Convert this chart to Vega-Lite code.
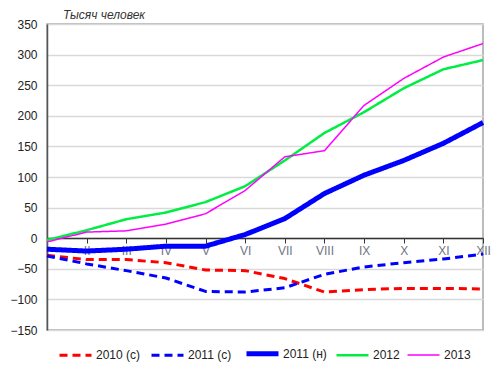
{
  "$schema": "https://vega.github.io/schema/vega-lite/v6.json",
  "autosize": {"type": "none"},
  "width": 436,
  "height": 306,
  "padding": {"left": 47, "top": 24, "right": 17, "bottom": 45},
  "background": "white",
  "title": {"text": "Тысяч человек", "anchor": "start", "frame": "group", "dx": 16, "offset": -4, "fontSize": 12, "fontStyle": "italic", "fontWeight": "normal", "font": "Liberation Sans", "color": "#333333"},
  "config": {
    "view": {"stroke": "#a6a6a6", "strokeWidth": 1.5},
    "font": "Liberation Sans"
  },
  "data": {"values": [
    {"m": "I", "s": "2010 (с)", "v": -28}, {"m": "II", "s": "2010 (с)", "v": -35}, {"m": "III", "s": "2010 (с)", "v": -35}, {"m": "IV", "s": "2010 (с)", "v": -40}, {"m": "V", "s": "2010 (с)", "v": -52}, {"m": "VI", "s": "2010 (с)", "v": -53}, {"m": "VII", "s": "2010 (с)", "v": -66}, {"m": "VIII", "s": "2010 (с)", "v": -88}, {"m": "IX", "s": "2010 (с)", "v": -84}, {"m": "X", "s": "2010 (с)", "v": -82}, {"m": "XI", "s": "2010 (с)", "v": -82}, {"m": "XII", "s": "2010 (с)", "v": -83},
    {"m": "I", "s": "2011 (с)", "v": -29}, {"m": "II", "s": "2011 (с)", "v": -42}, {"m": "III", "s": "2011 (с)", "v": -53}, {"m": "IV", "s": "2011 (с)", "v": -65}, {"m": "V", "s": "2011 (с)", "v": -87}, {"m": "VI", "s": "2011 (с)", "v": -88}, {"m": "VII", "s": "2011 (с)", "v": -81}, {"m": "VIII", "s": "2011 (с)", "v": -59}, {"m": "IX", "s": "2011 (с)", "v": -47}, {"m": "X", "s": "2011 (с)", "v": -40}, {"m": "XI", "s": "2011 (с)", "v": -34}, {"m": "XII", "s": "2011 (с)", "v": -26},
    {"m": "I", "s": "2011 (н)", "v": -18}, {"m": "II", "s": "2011 (н)", "v": -21}, {"m": "III", "s": "2011 (н)", "v": -18}, {"m": "IV", "s": "2011 (н)", "v": -13}, {"m": "V", "s": "2011 (н)", "v": -13}, {"m": "VI", "s": "2011 (н)", "v": 6}, {"m": "VII", "s": "2011 (н)", "v": 32}, {"m": "VIII", "s": "2011 (н)", "v": 73}, {"m": "IX", "s": "2011 (н)", "v": 103}, {"m": "X", "s": "2011 (н)", "v": 127}, {"m": "XI", "s": "2011 (н)", "v": 155}, {"m": "XII", "s": "2011 (н)", "v": 189},
    {"m": "I", "s": "2012", "v": -3}, {"m": "II", "s": "2012", "v": 13}, {"m": "III", "s": "2012", "v": 31}, {"m": "IV", "s": "2012", "v": 42}, {"m": "V", "s": "2012", "v": 59}, {"m": "VI", "s": "2012", "v": 85}, {"m": "VII", "s": "2012", "v": 127}, {"m": "VIII", "s": "2012", "v": 172}, {"m": "IX", "s": "2012", "v": 206}, {"m": "X", "s": "2012", "v": 245}, {"m": "XI", "s": "2012", "v": 276}, {"m": "XII", "s": "2012", "v": 291},
    {"m": "I", "s": "2013", "v": -6}, {"m": "II", "s": "2013", "v": 10}, {"m": "III", "s": "2013", "v": 12}, {"m": "IV", "s": "2013", "v": 23}, {"m": "V", "s": "2013", "v": 40}, {"m": "VI", "s": "2013", "v": 78}, {"m": "VII", "s": "2013", "v": 133}, {"m": "VIII", "s": "2013", "v": 143}, {"m": "IX", "s": "2013", "v": 217}, {"m": "X", "s": "2013", "v": 261}, {"m": "XI", "s": "2013", "v": 296}, {"m": "XII", "s": "2013", "v": 318}
  ]},
  "mark": {"type": "line", "strokeCap": "butt", "strokeJoin": "round"},
  "encoding": {
    "x": {
      "field": "m", "type": "ordinal",
      "sort": ["I", "II", "III", "IV", "V", "VI", "VII", "VIII", "IX", "X", "XI", "XII"],
      "scale": {"type": "point", "padding": 0},
      "axis": {"title": null, "offset": -92, "labelAngle": 0, "domainColor": "#333333", "domainWidth": 1.5, "tickColor": "#333333", "tickSize": 5, "tickOffset": 0, "labelColor": "#6f7585", "labelFontSize": 12, "labelPadding": 2, "labelBound": false, "labelOverlap": false, "grid": false, "zindex": 0}
    },
    "y": {
      "field": "v", "type": "quantitative",
      "scale": {"domain": [-150, 350], "nice": false},
      "axis": {"title": null, "values": [-150, -100, -50, 0, 50, 100, 150, 200, 250, 300, 350], "ticks": false, "labelFontSize": 12, "labelColor": "#222222", "labelPadding": 10, "gridColor": "#d9d9d9", "gridWidth": 1.5, "domainColor": "#555555", "domainWidth": 1.5}
    },
    "color": {
      "field": "s", "type": "nominal",
      "scale": {"domain": ["2010 (с)", "2011 (с)", "2011 (н)", "2012", "2013"], "range": ["#ff0000", "#0000ff", "#0000ff", "#00ee44", "#ff00ff"]},
      "legend": {"title": null, "orient": "none", "legendX": 10, "legendY": 311, "direction": "horizontal", "columns": 5, "symbolType": "stroke", "symbolSize": 1024, "labelFontSize": 12, "labelColor": "#222222", "columnPadding": 4, "labelOffset": 2, "padding": 0, "symbolOffset": 0}
    },
    "strokeDash": {
      "field": "s", "type": "nominal",
      "scale": {"domain": ["2010 (с)", "2011 (с)", "2011 (н)", "2012", "2013"], "range": [[8, 5], [8, 5], [1, 0], [1, 0], [1, 0]]},
      "legend": null
    },
    "strokeWidth": {
      "field": "s", "type": "nominal",
      "scale": {"type": "ordinal", "domain": ["2010 (с)", "2011 (с)", "2011 (н)", "2012", "2013"], "range": [3, 3, 5, 2.5, 1.5]},
      "legend": null
    }
  }
}
